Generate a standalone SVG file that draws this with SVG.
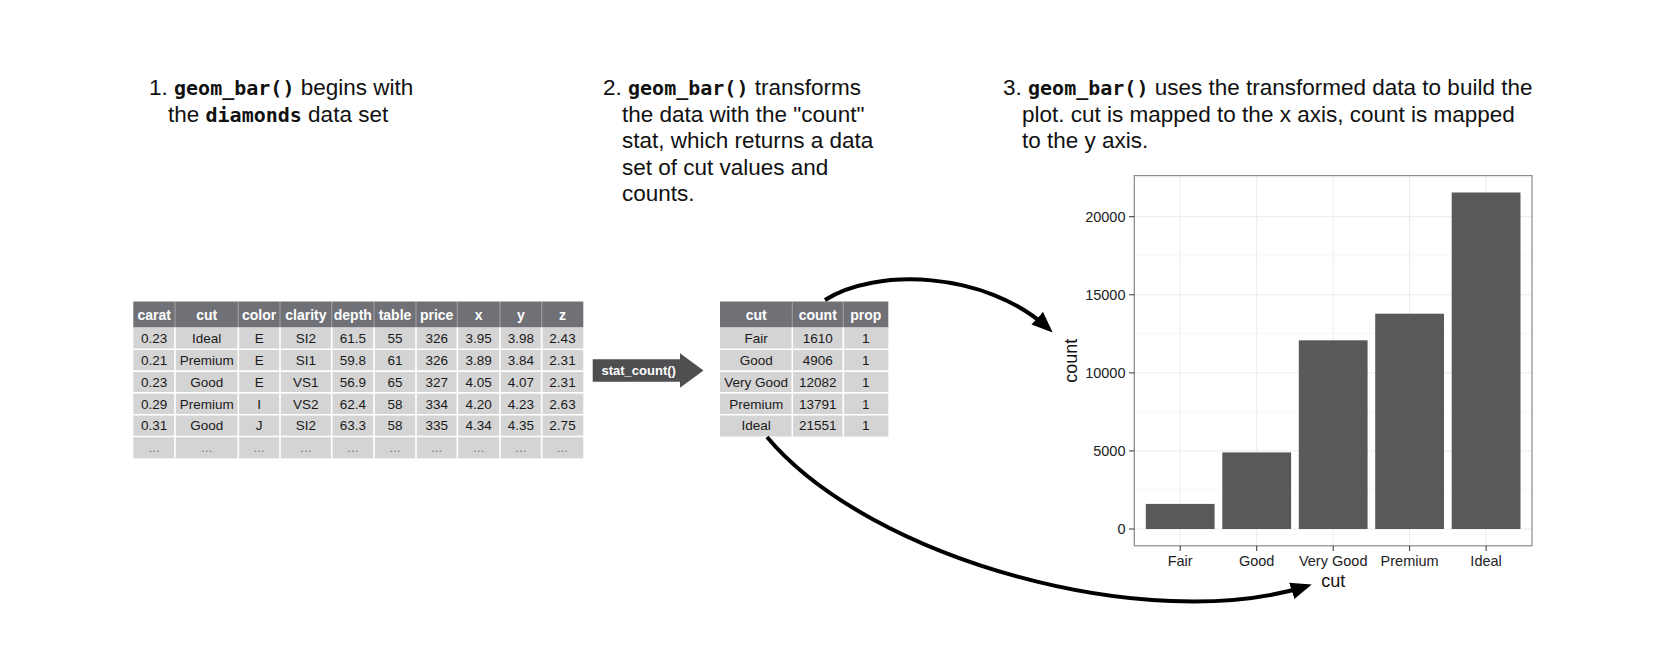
<svg xmlns="http://www.w3.org/2000/svg" width="1658" height="650" viewBox="0 0 1658 650">
<style>
.h{font-family:"Liberation Sans",Arial,sans-serif;font-size:22.5px;fill:#111}
.code{font-family:"DejaVu Sans Mono","Liberation Mono",monospace;font-weight:bold;font-size:20px}
.th{font-family:"Liberation Sans",Arial,sans-serif;font-size:14px;font-weight:bold;fill:#fff;text-anchor:middle}
.td{font-family:"Liberation Sans",Arial,sans-serif;font-size:13.5px;fill:#1a1a1a;text-anchor:middle}
.dots{fill:#777}
.hdr{fill:#6f7177}
.body{fill:#d4d4d4}
.sep{stroke:#fff;stroke-width:1.6}
.hsep{stroke:#fff;stroke-opacity:0.3;stroke-width:1.2}
.grid{stroke:#ebebeb;stroke-width:1}
.gridm{stroke:#f3f3f3;stroke-width:0.7}
.bar{fill:#595959}
.tick{stroke:#333;stroke-width:1}
.ax{font-family:"Liberation Sans",Arial,sans-serif;font-size:14.5px;fill:#222}
.axt{font-family:"Liberation Sans",Arial,sans-serif;font-size:18px;fill:#111;text-anchor:middle}
.conn{fill:none;stroke:#000;stroke-width:4}
</style>
<defs>
<marker id="ah" markerUnits="userSpaceOnUse" markerWidth="22" markerHeight="18" refX="16" refY="8.5" orient="auto" viewBox="0 0 22 17">
<path d="M0,0 L21,8.5 L0,17 z" fill="#000"/>
</marker>
</defs>
<rect width="1658" height="650" fill="#fff"/>

<g id="heading1">
<text class="h" x="149" y="95">1. <tspan class="code">geom_bar()</tspan> begins with</text>
<text class="h" x="168" y="121.5">the <tspan class="code">diamonds</tspan> data set</text>
</g>

<g id="heading2">
<text class="h" x="603" y="95">2. <tspan class="code">geom_bar()</tspan> transforms</text>
<text class="h" x="622" y="121.5">the data with the "count"</text>
<text class="h" x="622" y="148">stat, which returns a data</text>
<text class="h" x="622" y="174.5">set of cut values and</text>
<text class="h" x="622" y="201">counts.</text>
</g>

<g id="heading3">
<text class="h" x="1003" y="95">3. <tspan class="code">geom_bar()</tspan> uses the transformed data to build the</text>
<text class="h" x="1022" y="121.5">plot. cut is mapped to the x axis, count is mapped</text>
<text class="h" x="1022" y="148">to the y axis.</text>
</g>

<g id="table-diamonds">
<rect class="hdr" x="133.3" y="301.5" width="450" height="26"/>
<rect class="body" x="133.3" y="327.5" width="450" height="130.8"/>
<g class="hsep">
<line x1="175" y1="301.5" x2="175" y2="327.5"/><line x1="238.3" y1="301.5" x2="238.3" y2="327.5"/><line x1="280" y1="301.5" x2="280" y2="327.5"/><line x1="331.7" y1="301.5" x2="331.7" y2="327.5"/><line x1="374" y1="301.5" x2="374" y2="327.5"/><line x1="416" y1="301.5" x2="416" y2="327.5"/><line x1="457.3" y1="301.5" x2="457.3" y2="327.5"/><line x1="500" y1="301.5" x2="500" y2="327.5"/><line x1="541.7" y1="301.5" x2="541.7" y2="327.5"/>
</g>
<g class="sep">
<line x1="175" y1="327.5" x2="175" y2="458.3"/><line x1="238.3" y1="327.5" x2="238.3" y2="458.3"/><line x1="280" y1="327.5" x2="280" y2="458.3"/><line x1="331.7" y1="327.5" x2="331.7" y2="458.3"/><line x1="374" y1="327.5" x2="374" y2="458.3"/><line x1="416" y1="327.5" x2="416" y2="458.3"/><line x1="457.3" y1="327.5" x2="457.3" y2="458.3"/><line x1="500" y1="327.5" x2="500" y2="458.3"/><line x1="541.7" y1="327.5" x2="541.7" y2="458.3"/>
<line x1="133.3" y1="349.3" x2="583.3" y2="349.3"/><line x1="133.3" y1="371.1" x2="583.3" y2="371.1"/><line x1="133.3" y1="392.9" x2="583.3" y2="392.9"/><line x1="133.3" y1="414.7" x2="583.3" y2="414.7"/><line x1="133.3" y1="436.5" x2="583.3" y2="436.5"/>
</g>
<text class="th" y="319.5"><tspan x="154.15">carat</tspan><tspan x="206.65">cut</tspan><tspan x="259.15">color</tspan><tspan x="305.85">clarity</tspan><tspan x="352.85">depth</tspan><tspan x="395">table</tspan><tspan x="436.65">price</tspan><tspan x="478.65">x</tspan><tspan x="520.85">y</tspan><tspan x="562.5">z</tspan></text>
<text class="td" y="343.2"><tspan x="154.15">0.23</tspan><tspan x="206.65">Ideal</tspan><tspan x="259.15">E</tspan><tspan x="305.85">SI2</tspan><tspan x="352.85">61.5</tspan><tspan x="395">55</tspan><tspan x="436.65">326</tspan><tspan x="478.65">3.95</tspan><tspan x="520.85">3.98</tspan><tspan x="562.5">2.43</tspan></text>
<text class="td" y="365"><tspan x="154.15">0.21</tspan><tspan x="206.65">Premium</tspan><tspan x="259.15">E</tspan><tspan x="305.85">SI1</tspan><tspan x="352.85">59.8</tspan><tspan x="395">61</tspan><tspan x="436.65">326</tspan><tspan x="478.65">3.89</tspan><tspan x="520.85">3.84</tspan><tspan x="562.5">2.31</tspan></text>
<text class="td" y="386.8"><tspan x="154.15">0.23</tspan><tspan x="206.65">Good</tspan><tspan x="259.15">E</tspan><tspan x="305.85">VS1</tspan><tspan x="352.85">56.9</tspan><tspan x="395">65</tspan><tspan x="436.65">327</tspan><tspan x="478.65">4.05</tspan><tspan x="520.85">4.07</tspan><tspan x="562.5">2.31</tspan></text>
<text class="td" y="408.6"><tspan x="154.15">0.29</tspan><tspan x="206.65">Premium</tspan><tspan x="259.15">I</tspan><tspan x="305.85">VS2</tspan><tspan x="352.85">62.4</tspan><tspan x="395">58</tspan><tspan x="436.65">334</tspan><tspan x="478.65">4.20</tspan><tspan x="520.85">4.23</tspan><tspan x="562.5">2.63</tspan></text>
<text class="td" y="430.4"><tspan x="154.15">0.31</tspan><tspan x="206.65">Good</tspan><tspan x="259.15">J</tspan><tspan x="305.85">SI2</tspan><tspan x="352.85">63.3</tspan><tspan x="395">58</tspan><tspan x="436.65">335</tspan><tspan x="478.65">4.34</tspan><tspan x="520.85">4.35</tspan><tspan x="562.5">2.75</tspan></text>
<text class="td dots" y="452.2"><tspan x="154.15">...</tspan><tspan x="206.65">...</tspan><tspan x="259.15">...</tspan><tspan x="305.85">...</tspan><tspan x="352.85">...</tspan><tspan x="395">...</tspan><tspan x="436.65">...</tspan><tspan x="478.65">...</tspan><tspan x="520.85">...</tspan><tspan x="562.5">...</tspan></text>
</g>

<g id="stat-count">
<polygon points="592.7,359.3 680,359.3 680,353.3 703.5,370.5 680,387.7 680,381.7 592.7,381.7" fill="#4f4f51"/>
<text x="601.5" y="375" font-family="Liberation Sans, Arial, sans-serif" font-size="13px" font-weight="bold" fill="#fff">stat_count()</text>
</g>

<g id="table-counts">
<rect class="hdr" x="720" y="301.5" width="168.3" height="26"/>
<rect class="body" x="720" y="327.5" width="168.3" height="109"/>
<g class="hsep">
<line x1="792.3" y1="301.5" x2="792.3" y2="327.5"/><line x1="843.3" y1="301.5" x2="843.3" y2="327.5"/>
</g>
<g class="sep">
<line x1="792.3" y1="327.5" x2="792.3" y2="436.5"/><line x1="843.3" y1="327.5" x2="843.3" y2="436.5"/>
<line x1="720" y1="349.3" x2="888.3" y2="349.3"/><line x1="720" y1="371.1" x2="888.3" y2="371.1"/><line x1="720" y1="392.9" x2="888.3" y2="392.9"/><line x1="720" y1="414.7" x2="888.3" y2="414.7"/>
</g>
<text class="th" y="319.5"><tspan x="756.15">cut</tspan><tspan x="817.8">count</tspan><tspan x="865.8">prop</tspan></text>
<text class="td" y="343.2"><tspan x="756.15">Fair</tspan><tspan x="817.8">1610</tspan><tspan x="865.8">1</tspan></text>
<text class="td" y="365"><tspan x="756.15">Good</tspan><tspan x="817.8">4906</tspan><tspan x="865.8">1</tspan></text>
<text class="td" y="386.8"><tspan x="756.15">Very Good</tspan><tspan x="817.8">12082</tspan><tspan x="865.8">1</tspan></text>
<text class="td" y="408.6"><tspan x="756.15">Premium</tspan><tspan x="817.8">13791</tspan><tspan x="865.8">1</tspan></text>
<text class="td" y="430.4"><tspan x="756.15">Ideal</tspan><tspan x="817.8">21551</tspan><tspan x="865.8">1</tspan></text>
</g>

<g id="bar-chart">
<rect x="1134.3" y="175.6" width="397.7" height="370.2" fill="#fff"/>
<g class="gridm">
<line x1="1134.3" y1="490" x2="1532" y2="490"/><line x1="1134.3" y1="411.9" x2="1532" y2="411.9"/><line x1="1134.3" y1="333.8" x2="1532" y2="333.8"/><line x1="1134.3" y1="255.7" x2="1532" y2="255.7"/><line x1="1134.3" y1="177.7" x2="1532" y2="177.7"/>
</g>
<g class="grid">
<line x1="1134.3" y1="529" x2="1532" y2="529"/><line x1="1134.3" y1="450.9" x2="1532" y2="450.9"/><line x1="1134.3" y1="372.9" x2="1532" y2="372.9"/><line x1="1134.3" y1="294.8" x2="1532" y2="294.8"/><line x1="1134.3" y1="216.7" x2="1532" y2="216.7"/>
<line x1="1180.2" y1="175.6" x2="1180.2" y2="545.8"/><line x1="1256.7" y1="175.6" x2="1256.7" y2="545.8"/><line x1="1333.2" y1="175.6" x2="1333.2" y2="545.8"/><line x1="1409.6" y1="175.6" x2="1409.6" y2="545.8"/><line x1="1486.1" y1="175.6" x2="1486.1" y2="545.8"/>
</g>
<rect class="bar" x="1145.8" y="503.9" width="68.8" height="25.1"/>
<rect class="bar" x="1222.3" y="452.4" width="68.8" height="76.6"/>
<rect class="bar" x="1298.8" y="340.3" width="68.8" height="188.7"/>
<rect class="bar" x="1375.2" y="313.7" width="68.8" height="215.3"/>
<rect class="bar" x="1451.7" y="192.5" width="68.8" height="336.5"/>
<rect x="1134.3" y="175.6" width="397.7" height="370.2" fill="none" stroke="#8a8a8a" stroke-width="1.2"/>
<g class="tick">
<line x1="1129" y1="529" x2="1134.3" y2="529"/><line x1="1129" y1="450.9" x2="1134.3" y2="450.9"/><line x1="1129" y1="372.9" x2="1134.3" y2="372.9"/><line x1="1129" y1="294.8" x2="1134.3" y2="294.8"/><line x1="1129" y1="216.7" x2="1134.3" y2="216.7"/>
<line x1="1180.2" y1="545.8" x2="1180.2" y2="551"/><line x1="1256.7" y1="545.8" x2="1256.7" y2="551"/><line x1="1333.2" y1="545.8" x2="1333.2" y2="551"/><line x1="1409.6" y1="545.8" x2="1409.6" y2="551"/><line x1="1486.1" y1="545.8" x2="1486.1" y2="551"/>
</g>
<g class="ax" text-anchor="end">
<text x="1125.5" y="534">0</text><text x="1125.5" y="456">5000</text><text x="1125.5" y="378">10000</text><text x="1125.5" y="299.9">15000</text><text x="1125.5" y="221.8">20000</text>
</g>
<g class="ax" text-anchor="middle">
<text x="1180.2" y="566">Fair</text><text x="1256.7" y="566">Good</text><text x="1333.2" y="566">Very Good</text><text x="1409.6" y="566">Premium</text><text x="1486.1" y="566">Ideal</text>
</g>
<text class="axt" x="1333.2" y="587">cut</text>
<text class="axt" transform="translate(1076.5,360.7) rotate(-90)">count</text>
</g>

<g id="connectors">
<path class="conn" d="M825,300 C875,268 985,270 1049,329" marker-end="url(#ah)"/>
<path class="conn" d="M767,437 C870,560 1150,636 1307,586" marker-end="url(#ah)"/>
</g>
</svg>
